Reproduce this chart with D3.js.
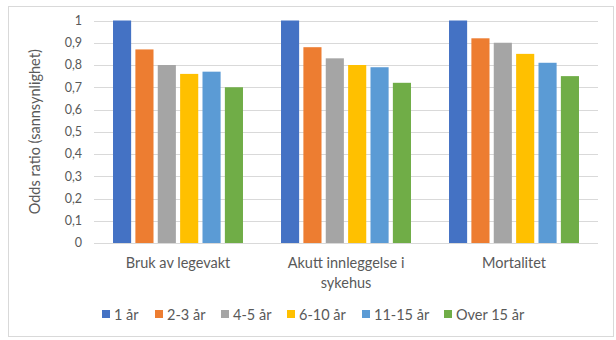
<!DOCTYPE html>
<html>
<head>
<meta charset="utf-8">
<script src="https://cdn.jsdelivr.net/npm/d3@7"></script>
<style>
  html, body { margin: 0; padding: 0; background: #fff; }
  svg { display: block; }
  text { font-family: Lato, "Open Sans", sans-serif; fill: #595959; }
</style>
</head>
<body>
<svg id="chart" width="616" height="340"></svg>
<script>
const categories = [["Bruk av legevakt"], ["Akutt innleggelse i", "sykehus"], ["Mortalitet"]];
const seriesNames = ["1 år", "2-3 år", "4-5 år", "6-10 år", "11-15 år", "Over 15 år"];
const seriesColors = ["#4472C4", "#ED7D31", "#A5A5A5", "#FFC000", "#5B9BD5", "#70AD47"];
const legevakt = [1, 0.87, 0.80, 0.76, 0.77, 0.70];
const innleggelse = [1, 0.88, 0.83, 0.80, 0.79, 0.72];
const mortalitet = [1, 0.92, 0.90, 0.85, 0.81, 0.75];
const yTicks = [0, 0.1, 0.2, 0.3, 0.4, 0.5, 0.6, 0.7, 0.8, 0.9, 1];
const yTitle = "Odds ratio (sannsynlighet)";

const values = [legevakt, innleggelse, mortalitet];
const svg = d3.select("#chart");

// chart frame
svg.append("rect").attr("x", 8.5).attr("y", 6.5).attr("width", 605).attr("height", 330)
  .attr("fill", "#fff").attr("stroke", "#d9d9d9").attr("stroke-width", 1);

const plotLeft = 94, plotRight = 598, plotTop = 20.5, plotBottom = 243;
const x0 = d3.scaleBand().domain(d3.range(categories.length)).range([plotLeft, plotRight]);
const x1 = d3.scaleBand().domain(d3.range(seriesNames.length))
  .range([0, x0.bandwidth()]).paddingOuter(0.85).paddingInner(0.19);
const y = d3.scaleLinear().domain([0, 1]).range([plotBottom, plotTop]);

const fmt = v => d3.format(".1f")(v).replace(".", ",").replace(/,0$/, "");

// gridlines
svg.append("g").selectAll("line").data(yTicks).join("line")
  .attr("x1", plotLeft).attr("x2", plotRight)
  .attr("y1", d => Math.round(y(d)) + 0.5).attr("y2", d => Math.round(y(d)) + 0.5)
  .attr("stroke", "#d9d9d9").attr("stroke-width", 1);

// y tick labels
svg.append("g").selectAll("text").data(yTicks).join("text")
  .attr("x", 82).attr("y", d => y(d)).attr("dy", "0.35em")
  .attr("text-anchor", "end").style("font-size", "12.5px")
  .text(d => fmt(d));

// y title
svg.append("text").attr("transform", `translate(35,${(plotTop + plotBottom) / 2}) rotate(-90)`)
  .attr("text-anchor", "middle").attr("dy", "0.35em").style("font-size", "14.5px")
  .text(yTitle);

// bars
const groups = svg.append("g").selectAll("g").data(values).join("g")
  .attr("transform", (d, i) => `translate(${x0(i)},0)`);
groups.selectAll("rect").data(d => d).join("rect")
  .attr("x", (d, j) => x1(j)).attr("width", x1.bandwidth())
  .attr("y", d => y(d)).attr("height", d => y(0) - y(d))
  .attr("fill", (d, j) => seriesColors[j]);

// category labels
const catG = svg.append("g").selectAll("text").data(categories).join("text")
  .attr("text-anchor", "middle").style("font-size", "14.5px")
  .attr("transform", (d, i) => `translate(${x0(i) + x0.bandwidth() / 2},268)`);
catG.selectAll("tspan").data(d => d).join("tspan")
  .attr("x", 0).attr("y", (d, k) => k * 20).text(d => d);

// legend
const legendX = [102, 155, 221, 287, 362, 444];
const lg = svg.append("g").selectAll("g").data(seriesNames).join("g")
  .attr("transform", (d, i) => `translate(${legendX[i]},310)`);
lg.append("rect").attr("x", 0).attr("y", 0).attr("width", 8).attr("height", 8)
  .attr("fill", (d, i) => seriesColors[i]);
lg.append("text").attr("x", 12).attr("y", 4).attr("dy", "0.38em")
  .style("font-size", "14.5px").text(d => d);
</script>
</body>
</html>
